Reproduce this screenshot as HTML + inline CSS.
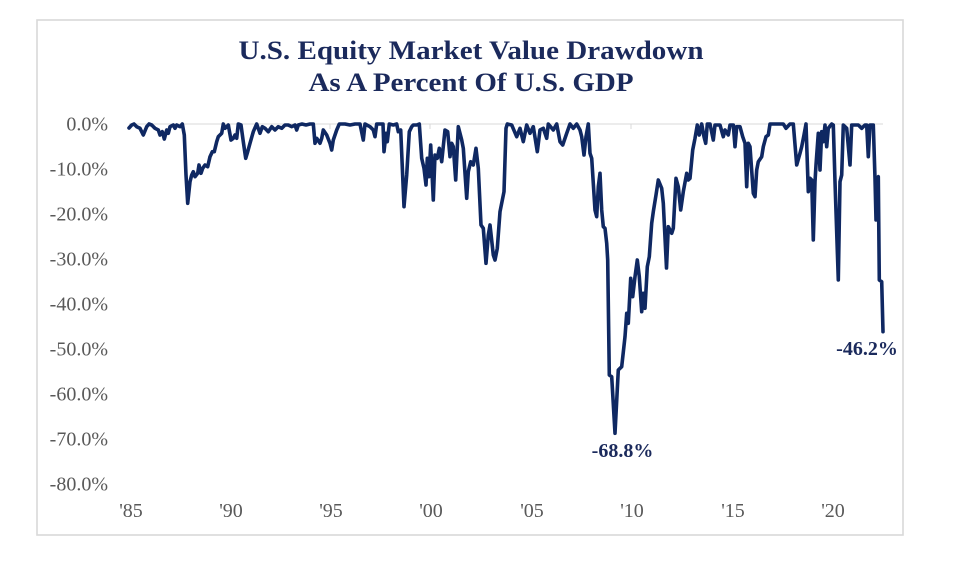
<!DOCTYPE html>
<html>
<head>
<meta charset="utf-8">
<style>
  html, body { margin:0; padding:0; background:#ffffff; }
  body { width:976px; height:571px; overflow:hidden; }
  svg { display:block; }
</style>
</head>
<body>
<svg width="976" height="571" viewBox="0 0 976 571" xmlns="http://www.w3.org/2000/svg">
  <rect x="0" y="0" width="976" height="571" fill="#ffffff"/>
  <!-- frame -->
  <rect x="37" y="20" width="866" height="515" fill="#ffffff" stroke="#d9d9d9" stroke-width="1.6"/>

  <!-- title -->
  <g font-family="'Liberation Serif', serif" font-weight="bold" fill="#1b2a5c" text-anchor="middle">
    <text x="471" y="59" font-size="26" textLength="465" lengthAdjust="spacingAndGlyphs">U.S. Equity Market Value Drawdown</text>
    <text x="471" y="91" font-size="26" textLength="325" lengthAdjust="spacingAndGlyphs">As A Percent Of U.S. GDP</text>
  </g>

  <!-- zero axis line -->
  <line x1="129" y1="124" x2="883" y2="124" stroke="#d9d9d9" stroke-width="1"/>
  <g stroke="#d9d9d9" stroke-width="1">
    <line x1="130" y1="124" x2="130" y2="129"/>
    <line x1="230" y1="124" x2="230" y2="129"/>
    <line x1="330" y1="124" x2="330" y2="129"/>
    <line x1="430" y1="124" x2="430" y2="129"/>
    <line x1="531" y1="124" x2="531" y2="129"/>
    <line x1="631" y1="124" x2="631" y2="129"/>
    <line x1="731" y1="124" x2="731" y2="129"/>
    <line x1="831" y1="124" x2="831" y2="129"/>
  </g>

  <!-- y axis labels -->
  <g font-family="'Liberation Serif', serif" font-size="20" fill="#595959" text-anchor="end">
    <text x="108" y="130.5">0.0%</text>
    <text x="108" y="175.5">-10.0%</text>
    <text x="108" y="220.5">-20.0%</text>
    <text x="108" y="265.5">-30.0%</text>
    <text x="108" y="310.5">-40.0%</text>
    <text x="108" y="355.5">-50.0%</text>
    <text x="108" y="400.5">-60.0%</text>
    <text x="108" y="445.5">-70.0%</text>
    <text x="108" y="490.5">-80.0%</text>
  </g>

  <!-- x axis labels -->
  <g font-family="'Liberation Serif', serif" font-size="20" fill="#595959" text-anchor="middle">
    <text x="131" y="517">'85</text>
    <text x="231" y="517">'90</text>
    <text x="331" y="517">'95</text>
    <text x="431" y="517">'00</text>
    <text x="532" y="517">'05</text>
    <text x="632" y="517">'10</text>
    <text x="733" y="517">'15</text>
    <text x="833" y="517">'20</text>
  </g>

  <!-- series -->
  <polyline fill="none" stroke="#0f2862" stroke-width="3.6" stroke-linejoin="round" stroke-linecap="round"
    points="129,128 131.7,125 134,124 136.7,126.7 140,128.3 143.3,135 146.7,126.7 149,124 151.7,125 155,128.3 158.3,130 160,135 162.3,131.7 164.3,139 166.7,130 168.3,133.3 170,126.7 173.3,125 175,128.3 176.7,125 180,126.7 182.3,124 184.3,135 186,175 187.7,203.3 190,181.7 191.7,175 193.3,171.7 195,176.7 197.7,173.3 199,165 201,173.3 202.7,168.3 205,165 207.7,166.7 210,156.7 212.3,151.7 214.3,151.7 216.7,141.7 218.3,136.7 221.7,133.3 223.3,124 225,128.3 226.7,126.7 228.3,125 231,140 233.3,138.3 235,135 236.7,138.3 238.3,124 241,125 243.3,141.7 245.7,158.3 247.7,151.7 250,143.3 253.3,131.7 256.7,124 260,133.3 262.3,126.7 265,128.3 268.3,131.7 271.7,126.7 275,130 278.3,126.7 281.7,128.3 285,125 288.3,125 291.7,126.7 295,125 296.7,130 298.3,125 302,124 306,125 310,124 313.3,124 315,143.3 316.7,138.3 320,143.3 321.7,138.3 323.3,130 326.7,135 330,143.3 331.7,150 333.3,140 336.7,130 339.3,124 345,124 350,125 355,124 360,124 363.3,140 365,124 370,126.7 373.3,130 375,136.7 376.7,124 383,124 384,151.7 386,133.3 387.3,141.7 389.3,124 393.3,125 396.7,124 398.3,131.7 400.7,130 404,206.7 406.7,175 409.3,131.7 411.7,126.7 413.3,125 416.7,125 419.3,124 421.7,158.3 424,168.3 426,185 427.3,158.3 429,176.7 430.7,145 433.3,200 435,155 437.3,158.3 439.3,148.3 441.7,161.7 445,130 447.7,131.7 450,156.7 451.7,143.3 453.3,146.7 455.7,180 458.3,126.7 461.7,140 463.3,148.3 466.7,198.3 468.3,171.7 470.7,161.7 473.3,165 476,148.3 478.3,168.3 481,225 483.3,228.3 486,263.3 488.3,235 490,225 493.3,255 495,260 497.3,248.3 500,211.7 504,191.7 506,128.3 507.3,124 511.7,125 516.7,136.7 520,128.3 523.3,141.7 526.7,125 530,133.3 533.3,126.7 537.3,151.7 540,130 543.3,128.3 546.7,138.3 548.3,124 553.3,130 556.7,124 560,141.7 562.7,145 566.7,133.3 570,124 573.3,128.3 576.7,124 580,130 581.7,136.7 584,155 586,136.7 588.3,124 590,153.3 591.7,158.3 595,210 596.7,216.7 598.3,186.7 600,173.3 601.7,210 603.3,226.7 605,228.3 606.7,243.3 607.7,260 609.3,375 611.7,376.7 615,433.3 618.3,370 621.7,366.7 625,336.7 626.7,313.3 628.3,323.3 630.7,278.3 632.7,296.7 635,276.7 637.3,260 639.3,276.7 641.7,311.7 643.3,293.3 645,308.3 647.3,266.7 649.3,256.7 651.7,223.3 653.3,211.7 656,195 658.3,180 661.7,188.3 663.3,203.3 666.5,268 668.3,226.7 671.7,233.3 673.3,228.3 676,178.3 678.3,186.7 680.7,210 683.3,191.7 686.7,173.3 688.3,180 690,178.3 692.7,150 695,138.3 697.3,125 699.3,135 701.7,124 704,136.7 705.7,143.3 707.3,124 710,124 713.3,140 715,125 720,125 723.3,136.7 725,130 728.3,135 730,125 733.3,125 735,146.7 736.7,126.7 740,126.7 742.7,136.7 745,143.3 746.7,186.7 748.3,143.3 750,146.7 753.3,193.3 755,196.7 756.7,170 758.3,161.7 761.7,156.7 763.3,146.7 766,136.7 768.3,135 770,124 775,124 783.3,124 786,128.3 790,124 793.3,124 796.7,165 800,153.3 801.7,146.7 804,135 806,124 808.3,191.7 810,178.3 811.7,180 813.3,240 815,181.7 816,165 818.3,133.3 820,170 821.7,131.7 823.3,141.7 825,125 826.7,146.7 828.3,128.3 831.7,124 833.3,125 835,181.7 838.3,280 840,181.7 841.7,175 843.3,125 846.7,128.3 850,165 851.7,125 858.3,125 861.7,128.3 865,125 866.7,125 868.3,156.7 870,125 873.3,125 875,178.3 876,220 877.3,178 878.3,176.7 879.3,280 881.7,281.7 883,331.7"/>

  <!-- annotations -->
  <g font-family="'Liberation Serif', serif" font-weight="bold" font-size="20" fill="#1b2a5c" text-anchor="middle">
    <text x="622.5" y="457">-68.8%</text>
    <text x="867" y="355">-46.2%</text>
  </g>
</svg>
</body>
</html>
